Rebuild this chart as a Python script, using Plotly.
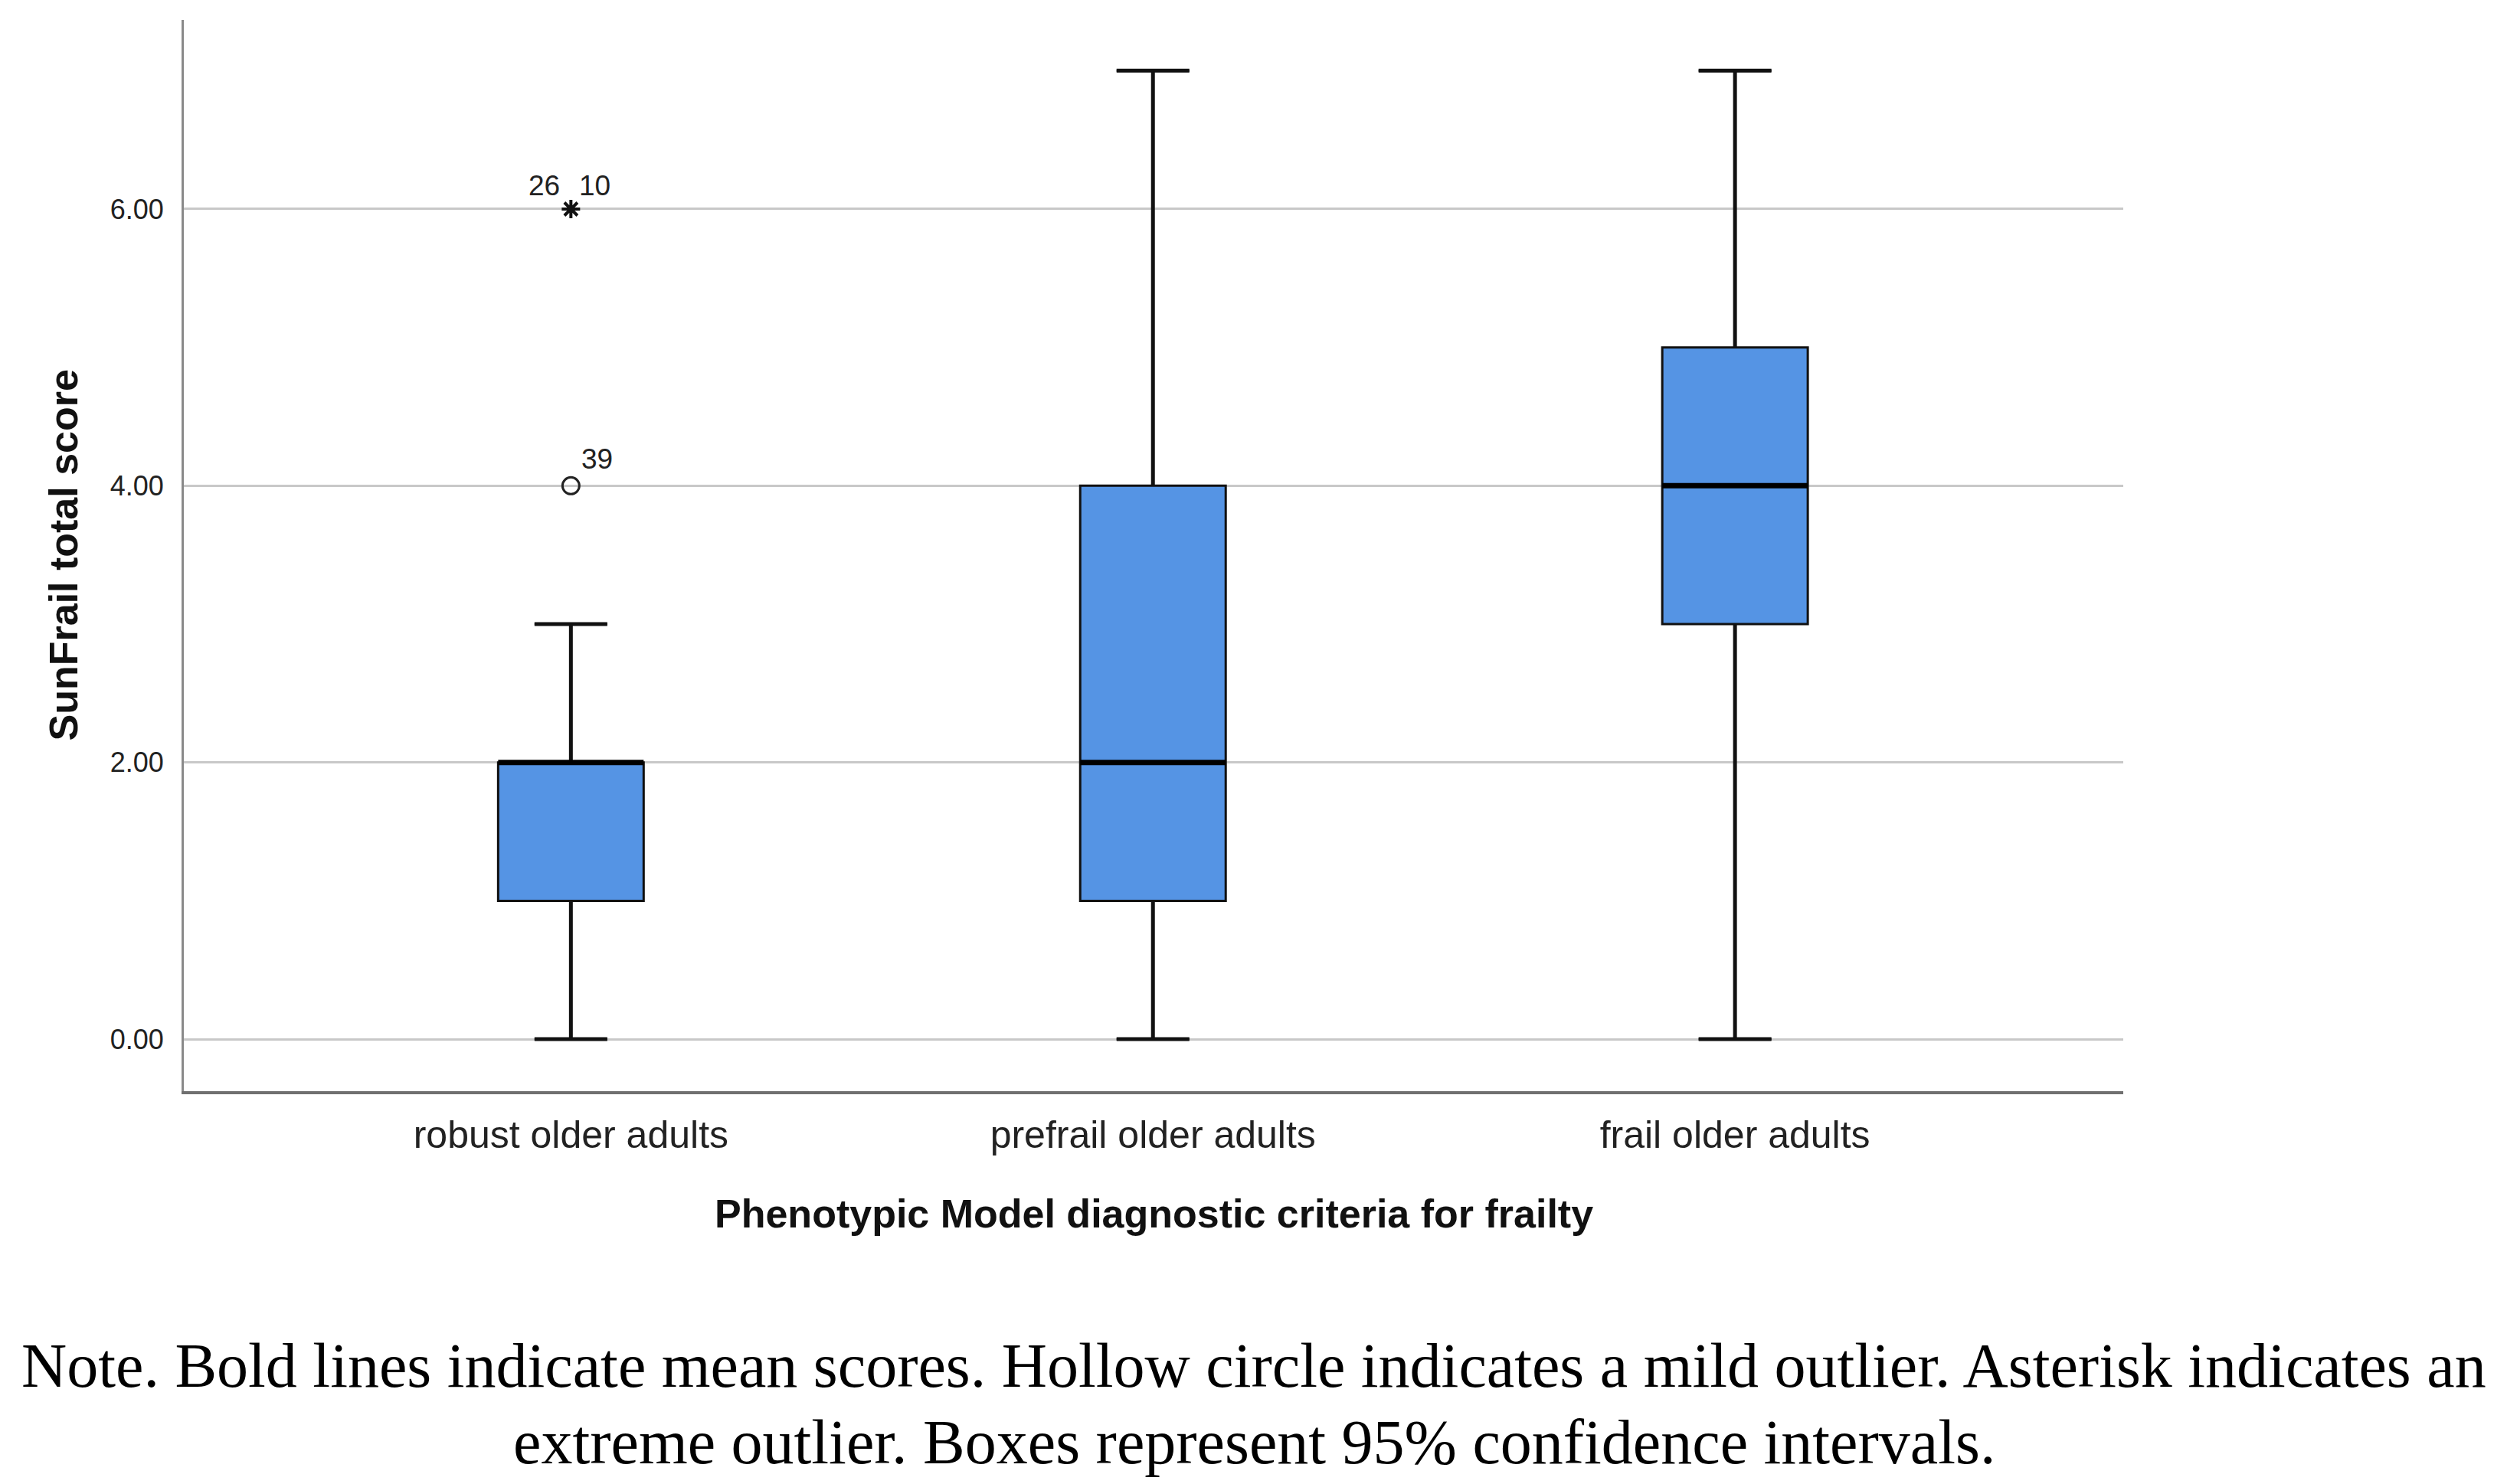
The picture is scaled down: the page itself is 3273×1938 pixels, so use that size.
import plotly.graph_objects as go

# --- data ---
categories = ["robust older adults", "prefrail older adults", "frail older adults"]
lower_whisker = [0, 0, 0]
q1 = [1, 1, 3]
median = [2, 2, 4]
q3 = [2, 4, 5]
upper_whisker = [3, 7, 7]

# outliers (category index, value, case labels)
mild_cat = [0]
mild_val = [4]
mild_labels = ["39"]
extreme_cat = [0]
extreme_val = [6]
extreme_labels_left = ["26"]
extreme_labels_right = ["10"]

y_ticks = [0, 2, 4, 6]

BOX_COLOR = "#5594E4"
BOX_W = 0.25
CAP = BOX_W / 4
pos = list(range(len(categories)))

fig = go.Figure()

fig.add_trace(go.Box(
    x=pos, q1=q1, median=median, q3=q3,
    lowerfence=lower_whisker, upperfence=upper_whisker,
    width=BOX_W, whiskerwidth=0.5, boxpoints=False,
    fillcolor=BOX_COLOR, line=dict(color="#111111", width=3),
    hoverinfo="skip", showlegend=False,
))

# thicker whiskers and caps over the box trace
wx, wy = [], []
for i in pos:
    wx += [i, i, None, i, i, None,
           i - CAP, i + CAP, None, i - CAP, i + CAP, None]
    wy += [lower_whisker[i], q1[i], None, q3[i], upper_whisker[i], None,
           lower_whisker[i], lower_whisker[i], None,
           upper_whisker[i], upper_whisker[i], None]
fig.add_trace(go.Scatter(x=wx, y=wy, mode="lines",
                         line=dict(color="#111111", width=5),
                         hoverinfo="skip", showlegend=False))

# bold median lines
mx, my = [], []
for i in pos:
    mx += [i - BOX_W / 2, i + BOX_W / 2, None]
    my += [median[i], median[i], None]
fig.add_trace(go.Scatter(x=mx, y=my, mode="lines",
                         line=dict(color="#000000", width=7),
                         hoverinfo="skip", showlegend=False))

# outliers
fig.add_trace(go.Scatter(
    x=mild_cat, y=mild_val, mode="markers",
    marker=dict(symbol="circle-open", size=22, color="#222222",
                line=dict(width=3, color="#222222")),
    hoverinfo="skip", showlegend=False))
fig.add_trace(go.Scatter(
    x=extreme_cat, y=extreme_val, mode="markers",
    marker=dict(symbol="asterisk-open", size=20, color="#111111",
                line=dict(width=4, color="#111111")),
    hoverinfo="skip", showlegend=False))

lab_font = dict(family="Liberation Sans, Arial, sans-serif", size=37, color="#222222")
annotations = []
for c, v, t in zip(mild_cat, mild_val, mild_labels):
    annotations.append(dict(x=c, y=v, text=t, showarrow=False, xanchor="left",
                            yanchor="bottom", xshift=12, yshift=12, font=lab_font))
for c, v, tl, tr in zip(extreme_cat, extreme_val, extreme_labels_left, extreme_labels_right):
    annotations.append(dict(x=c, y=v, text=tl, showarrow=False, xanchor="right",
                            yanchor="bottom", xshift=-12, yshift=8, font=lab_font))
    annotations.append(dict(x=c, y=v, text=tr, showarrow=False, xanchor="left",
                            yanchor="bottom", xshift=9, yshift=8, font=lab_font))

# axis titles
annotations.append(dict(
    xref="paper", yref="paper", x=0.5, y=0, yshift=-160,
    xanchor="center", yanchor="middle", showarrow=False,
    text="<b>Phenotypic Model diagnostic criteria for frailty</b>",
    font=dict(family="Liberation Sans, Arial, sans-serif", size=52, color="#111111")))
annotations.append(dict(
    xref="paper", yref="paper", x=0, y=0.5, xshift=-158,
    xanchor="center", yanchor="middle", showarrow=False, textangle=-90,
    text="<b>SunFrail total score</b>",
    font=dict(family="Liberation Sans, Arial, sans-serif", size=52, color="#111111")))

# figure note
note_font = dict(family="Liberation Serif, Times New Roman, serif", size=82, color="#000000")
annotations.append(dict(
    xref="paper", yref="paper", x=0.5, y=0, xshift=131, yshift=-358,
    xanchor="center", yanchor="middle", showarrow=False, font=note_font,
    text="Note. Bold lines indicate mean scores. Hollow circle indicates a mild outlier. Asterisk indicates an"))
annotations.append(dict(
    xref="paper", yref="paper", x=0.5, y=0, xshift=131, yshift=-458,
    xanchor="center", yanchor="middle", showarrow=False, font=note_font,
    text="extreme outlier. Boxes represent 95% confidence intervals."))

fig.update_layout(
    width=3273, height=1938,
    margin=dict(l=232, r=509, t=18, b=521),
    paper_bgcolor="white", plot_bgcolor="white",
    font=dict(family="Liberation Sans, Arial, sans-serif", color="#222222"),
    showlegend=False,
    annotations=annotations,
    xaxis=dict(
        range=[-0.665, 2.667], tickvals=pos, ticktext=categories,
        showgrid=False, zeroline=False, ticks="",
        showline=True, linecolor="#707070", linewidth=4,
        tickfont=dict(size=50, color="#222222"), ticklabelstandoff=10,
    ),
    yaxis=dict(
        range=[-0.376, 7.367], tickvals=y_ticks, tickformat=".2f",
        showgrid=True, gridcolor="#C8C8C8", gridwidth=3,
        zeroline=False, ticks="",
        showline=True, linecolor="#8A8A8A", linewidth=3,
        tickfont=dict(size=36, color="#222222"), ticklabelstandoff=16,
    ),
)

fig.write_html("out.html")
